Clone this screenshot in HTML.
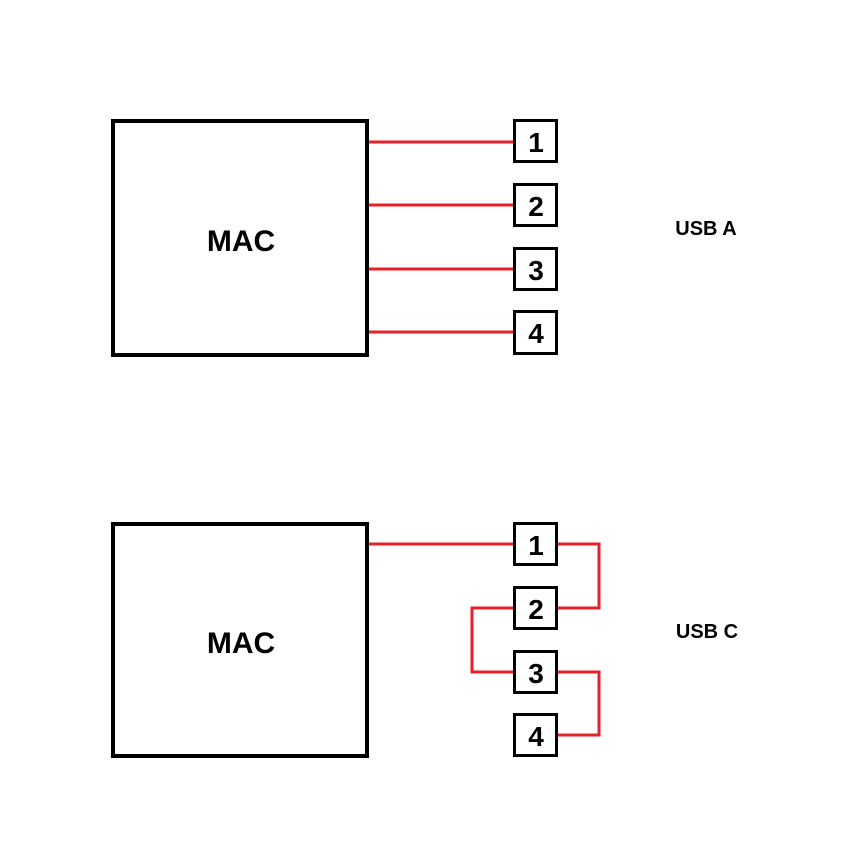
<!DOCTYPE html>
<html><head><style>
html,body{margin:0;padding:0;background:#fff;width:867px;height:860px;overflow:hidden}
svg text{font-family:"Liberation Sans",sans-serif;font-weight:bold;fill:#000}
</style></head><body>
<svg width="867" height="860" viewBox="0 0 867 860">
<rect x="0" y="0" width="867" height="860" fill="#fff"/>
<g stroke="#e8202a" stroke-width="3" fill="none">
<line x1="369" y1="142" x2="515" y2="142"/>
<line x1="369" y1="205" x2="515" y2="205"/>
<line x1="369" y1="269" x2="515" y2="269"/>
<line x1="369" y1="332" x2="515" y2="332"/>
<line x1="369" y1="544" x2="515" y2="544"/>
<polyline points="557,544 599,544 599,608 557,608"/>
<polyline points="515,608 472,608 472,672 515,672"/>
<polyline points="557,672 599,672 599,735 557,735"/>
</g>
<g stroke="#000" fill="#fff">
<rect x="113" y="121" width="254" height="234" stroke-width="4"/>
<rect x="113" y="524" width="254" height="232" stroke-width="4"/>
<g stroke-width="3">
<rect x="514.5" y="120.5" width="42" height="41"/>
<rect x="514.5" y="184.5" width="42" height="41"/>
<rect x="514.5" y="248.5" width="42" height="41"/>
<rect x="514.5" y="311.5" width="42" height="42"/>
<rect x="514.5" y="523.5" width="42" height="41"/>
<rect x="514.5" y="587.5" width="42" height="41"/>
<rect x="514.5" y="651.5" width="42" height="41"/>
<rect x="514.5" y="714.5" width="42" height="41"/>
</g>
</g>
<g font-size="28" text-anchor="middle">
<text x="536" y="152">1</text>
<text x="536" y="216">2</text>
<text x="536" y="280">3</text>
<text x="536" y="343">4</text>
<text x="536" y="555">1</text>
<text x="536" y="619">2</text>
<text x="536" y="683">3</text>
<text x="536" y="746">4</text>
</g>
<text x="241" y="251" font-size="30" text-anchor="middle">MAC</text>
<text x="241" y="653" font-size="30" text-anchor="middle">MAC</text>
<text x="706" y="235" font-size="20" text-anchor="middle">USB A</text>
<text x="707" y="638" font-size="20" text-anchor="middle">USB C</text>
</svg>
</body></html>
